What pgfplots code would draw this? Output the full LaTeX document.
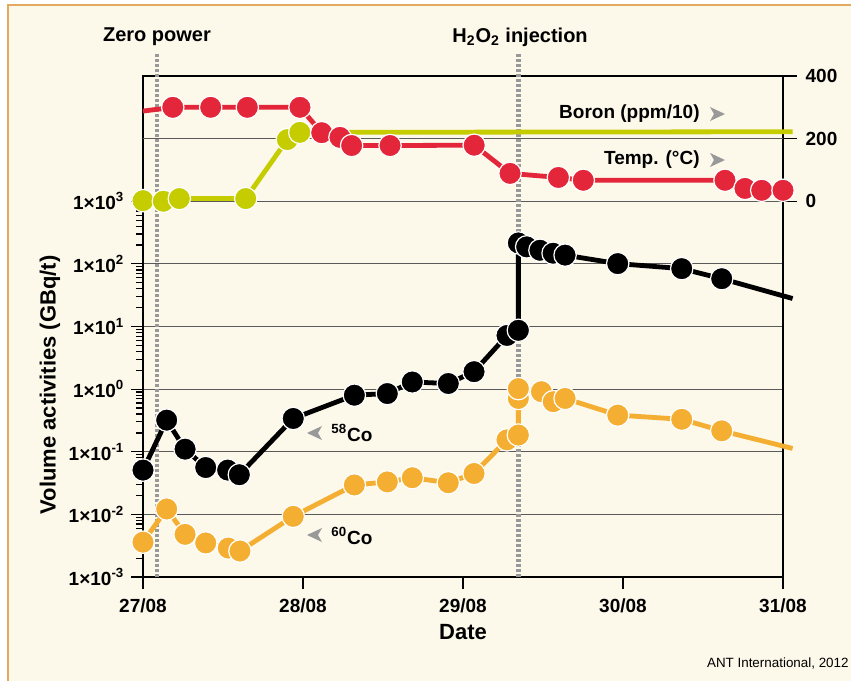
\documentclass[border=0pt]{standalone}
\usepackage{pgfplots}
\pgfplotsset{compat=1.18}
\usepackage{fontspec}
\setmainfont{Liberation Sans}
\definecolor{cream}{HTML}{FCF8EA}
\definecolor{framec}{HTML}{E3A95E}
\definecolor{tred}{HTML}{E3263A}
\definecolor{boron}{HTML}{C5CC00}
\definecolor{cosixty}{HTML}{F4AF32}
\definecolor{dotgray}{HTML}{999999}
\definecolor{gridc}{HTML}{5A5A5A}
\tikzset{dot/.style={color=#1, line width=2.4pt, mark=*, mark size=5.6pt,
  mark options={fill=#1, draw=white, line width=0.6pt, solid}}}
\newcommand{\tickfont}{\bfseries\fontsize{9.5}{11}\selectfont}

\begin{document}
\begin{tikzpicture}
\begin{scope}[x=0.5pt,y=-0.5pt]
\useasboundingbox (0,0) rectangle (851,681);
\fill[white] (0,0) rectangle (851,681);
\fill[cream] (8,5) rectangle (851,681);
\draw[framec,line width=0.6pt] (8,681) -- (8,5) -- (851,5);
\end{scope}

% activities, log scale (upper two decades belong to the right axis)
\begin{axis}[at={(71.5pt,-288.5pt)}, anchor=south west, scale only axis,
  width=320pt, height=250.5pt,
  xmin=0, xmax=4, ymode=log, ymin=1e-3, ymax=1e5, clip=false,
  xtick={0,1,2,3,4}, xticklabels={27/08,28/08,29/08,30/08,31/08},
  ytick={1e-3,1e-2,1e-1,1,10,100,1000},
  yticklabels={1×10\textsuperscript{-3},1×10\textsuperscript{-2},1×10\textsuperscript{-1},
    1×10\textsuperscript{0},1×10\textsuperscript{1},1×10\textsuperscript{2},1×10\textsuperscript{3}},
  minor ytick={2e-3,3e-3,4e-3,5e-3,6e-3,7e-3,8e-3,9e-3,
    2e-2,3e-2,4e-2,5e-2,6e-2,7e-2,8e-2,9e-2,
    0.2,0.3,0.4,0.5,0.6,0.7,0.8,0.9,
    2,3,4,5,6,7,8,9,
    20,30,40,50,60,70,80,90,
    200,300,400,500,600,700,800,900},
  extra y ticks={1e4}, extra y tick labels={},
  extra y tick style={grid=major, major tick length=0pt},
  ymajorgrids, grid style={gridc, line width=0.6pt},
  xtick pos=bottom, ytick pos=left, tick align=outside,
  major tick length=5.8pt, minor tick length=3.3pt,
  tick style={black, line width=0.6pt},
  axis line style={line width=1pt},
  ticklabel style={font=\tickfont},
  xticklabel style={yshift=-1.5pt},
  /pgf/number format/assume math mode=true]
\draw[dotgray, line width=2.4pt, dash pattern=on 1.5pt off 1pt]
  (axis cs:0.0875,1e-3) -- (axis cs:0.0875,2.4e5);
\draw[dotgray, line width=2.4pt, dash pattern=on 1.5pt off 1pt]
  (axis cs:2.346,1e-3) -- (axis cs:2.346,2.4e5);
% 60Co
\addplot[dot=cosixty, mark indices={1,...,22}] coordinates {
  (0,0.0036) (0.148,0.0122) (0.263,0.0048) (0.392,0.0035) (0.533,0.0029)
  (0.606,0.0026) (0.939,0.0093) (1.321,0.0295) (1.527,0.033) (1.683,0.0385)
  (1.908,0.032) (2.069,0.045) (2.275,0.155) (2.346,0.185) (2.346,0.71)
  (2.346,1.02) (2.49,0.91) (2.564,0.63) (2.638,0.71) (2.967,0.385)
  (3.367,0.33) (3.617,0.216) (4.06,0.113)};
% 58Co
\addplot[dot=black, mark indices={1,...,22}] coordinates {
  (0,0.051) (0.148,0.32) (0.263,0.11) (0.392,0.056) (0.529,0.051)
  (0.602,0.043) (0.939,0.34) (1.321,0.80) (1.527,0.85) (1.683,1.3)
  (1.908,1.23) (2.069,1.9) (2.275,7.2) (2.346,8.7) (2.346,216)
  (2.398,187) (2.481,165) (2.563,148) (2.638,138) (2.967,101)
  (3.367,84) (3.617,58) (4.06,28)};
\end{axis}

% temperature and boron, right axis
\begin{axis}[at={(71.5pt,-288.5pt)}, anchor=south west, scale only axis,
  width=320pt, height=250.5pt,
  xmin=0, xmax=4, ymin=-1200, ymax=400, clip=false,
  axis x line=none, axis y line*=right, y axis line style={draw=none},
  ytick={0,200,400}, tick align=outside, major tick length=7pt,
  tick style={black, line width=0.6pt},
  yticklabel style={font=\tickfont, anchor=west, xshift=0.8pt},
  /pgf/number format/assume math mode=true]
\addplot[dot=boron, mark indices={1,...,6}] coordinates {
  (0,2) (0.127,0) (0.227,8.6) (0.642,8.6) (0.902,197) (0.98,220) (4.06,222)};
\addplot[dot=tred, mark indices={2,...,17}] coordinates {
  (0,288) (0.186,300) (0.423,300) (0.652,300) (0.981,300) (1.117,219)
  (1.231,204) (1.304,178) (1.544,178) (2.07,179) (2.294,89) (2.596,76)
  (2.752,67) (3.6375,67) (3.7625,41) (3.867,35) (4.0,35)};
\end{axis}

\begin{scope}[x=0.5pt,y=-0.5pt, font=\bfseries\fontsize{10}{12}\selectfont]
\node at (157,37) {Zero power};
\node at (520,37) {H\textsubscript{2}O\textsubscript{2} injection};
\node[anchor=east, inner sep=0pt, font=\bfseries\fontsize{9.5}{11}\selectfont] at (700,114) {Boron (ppm/10)};
\fill[dotgray] (710,107) -- (725,114) -- (710,121) -- (714,114) -- cycle;
\node[anchor=east, inner sep=0pt, font=\bfseries\fontsize{9.5}{11}\selectfont] at (700,160) {Temp. (°C)};
\fill[dotgray] (710,153) -- (725,160) -- (710,167) -- (714,160) -- cycle;
\fill[dotgray] (322,426) -- (307,433) -- (322,440) -- (318,433) -- cycle;
\node[anchor=west, inner sep=0pt, font=\bfseries\fontsize{9.5}{11}\selectfont] at (331,433) {\textsuperscript{58}Co};
\fill[dotgray] (322,528) -- (307,535) -- (322,542) -- (318,535) -- cycle;
\node[anchor=west, inner sep=0pt, font=\bfseries\fontsize{9.5}{11}\selectfont] at (331,536) {\textsuperscript{60}Co};
\node[rotate=90, font=\bfseries\fontsize{11}{13}\selectfont] at (50,385) {Volume activities (GBq/t)};
\node[font=\bfseries\fontsize{11}{13}\selectfont] at (463,632) {Date};
\node[anchor=east, inner sep=0pt, font=\fontsize{6.7}{8}\selectfont] at (849,663) {ANT International, 2012};
\end{scope}
\end{tikzpicture}
\end{document}
